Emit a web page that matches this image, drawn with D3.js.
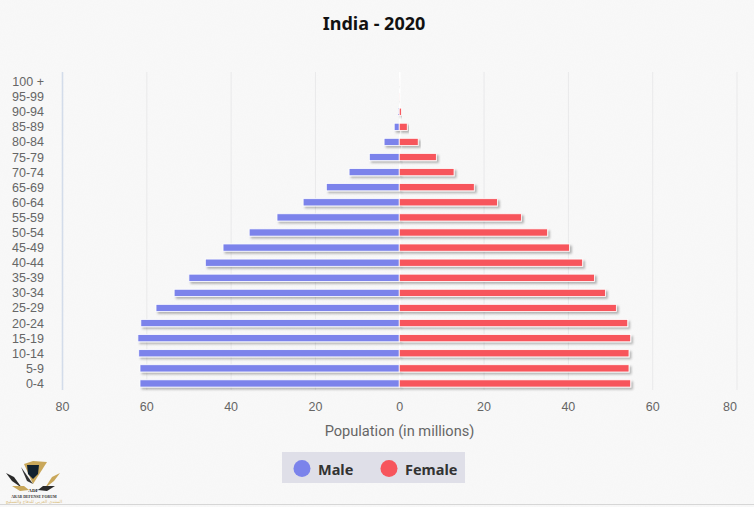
<!DOCTYPE html>
<html>
<head>
<meta charset="utf-8">
<script src="https://cdn.jsdelivr.net/npm/d3@7"></script>
<style>
  html, body { margin: 0; padding: 0; background: #f8f8f8; }
  svg { display: block; font-family: "Noto Sans", "Open Sans", sans-serif; }
  .title { font-size: 18px; font-weight: 700; fill: #111; }
  .tick-label { font-size: 12.5px; fill: #666; }
  .axis-title { font-family: Roboto, sans-serif; font-size: 14.6px; fill: #666; }
  .legend-label { font-size: 14.5px; font-weight: 700; fill: #333; }
</style>
</head>
<body>
<svg id="chart" width="754" height="507"></svg>
<script>
const ageGroups = ["100 +", "95-99", "90-94", "85-89", "80-84", "75-79", "70-74", "65-69", "60-64", "55-59", "50-54",
    "45-49", "40-44", "35-39", "30-34", "25-29", "20-24", "15-19", "10-14", "5-9", "0-4"];
const maleValues = [0.01, 0.03, 0.2, 1.2, 3.6, 7.1, 11.9, 17.3, 22.8, 29, 35.6,
    41.8, 46, 49.9, 53.4, 57.7, 61.3, 62, 61.8, 61.5, 61.5];
const femaleValues = [0.01, 0.06, 0.5, 1.9, 4.5, 8.8, 13, 17.8, 23.3, 29, 35.2,
    40.4, 43.5, 46.3, 48.9, 51.5, 54.2, 54.9, 54.5, 54.5, 54.9];
const xTicks = [-80, -60, -40, -20, 0, 20, 40, 60, 80];
const legendNames = ["Male", "Female"];

const maleColor = "#7b83eb";
const femaleColor = "#f7555c";

const svg = d3.select("#chart");
const defs = svg.append("defs");

// paper texture behind everything
const paper = defs.append("filter").attr("id", "paper")
    .attr("x", 0).attr("y", 0).attr("width", "100%").attr("height", "100%");
paper.append("feTurbulence").attr("type", "fractalNoise").attr("baseFrequency", 0.9).attr("numOctaves", 2).attr("seed", 4);
paper.append("feColorMatrix").attr("values", "0 0 0 0 0.7  0 0 0 0 0.7  0 0 0 0 0.7  0 0 0 0.1 0");

const shadow = defs.append("filter").attr("id", "barShadow")
    .attr("x", "-10%").attr("y", "-60%").attr("width", "120%").attr("height", "240%");
shadow.append("feDropShadow").attr("dx", 2).attr("dy", 2).attr("stdDeviation", 1)
    .attr("flood-color", "#000").attr("flood-opacity", 0.28);

svg.append("rect").attr("width", 754).attr("height", 507).attr("fill", "#f9f9f9");
svg.append("rect").attr("width", 754).attr("height", 507).attr("filter", "url(#paper)");

const xScale = d3.scaleLinear().domain([-80, 80]).range([62, 736.5]);
const yScale = d3.scaleBand().domain(ageGroups).range([74, 391]).paddingInner(0.52).paddingOuter(0.26);

svg.append("text").attr("class", "title")
    .attr("x", 374).attr("y", 30).attr("text-anchor", "middle")
    .text("India - 2020");

// x grid lines and labels
const xAxis = svg.append("g")
    .attr("transform", "translate(0, 72)")
    .call(d3.axisBottom(xScale).tickValues(xTicks).tickSize(318).tickPadding(12).tickFormat(d => Math.abs(d)));
xAxis.select(".domain").remove();
xAxis.selectAll(".tick line")
    .attr("stroke", d => d === -80 ? "#d3dcea" : d === 0 ? "#ffffff" : "#e9e9ea")
    .attr("stroke-width", d => d === -80 || d === 0 ? 1.6 : 1);
xAxis.selectAll(".tick text")
    .attr("class", "tick-label")
    .attr("fill", null)
    .attr("dx", d => d === 80 ? -7 : 0);

// age labels
const yAxis = svg.append("g")
    .attr("transform", "translate(44, 0.5)")
    .call(d3.axisLeft(yScale).tickSize(0).tickPadding(0));
yAxis.select(".domain").remove();
yAxis.selectAll(".tick text").attr("class", "tick-label").attr("fill", null);

const bars = svg.append("g");
bars.selectAll(".male")
    .data(maleValues)
    .join("rect")
    .attr("class", "male")
    .attr("x", d => xScale(-d))
    .attr("y", (d, i) => yScale(ageGroups[i]))
    .attr("width", d => xScale(0) - xScale(-d))
    .attr("height", yScale.bandwidth())
    .attr("fill", maleColor)
    .attr("stroke", "#fff")
    .attr("stroke-width", 0.8)
    .attr("filter", "url(#barShadow)");
bars.selectAll(".female")
    .data(femaleValues)
    .join("rect")
    .attr("class", "female")
    .attr("x", xScale(0))
    .attr("y", (d, i) => yScale(ageGroups[i]))
    .attr("width", d => xScale(d) - xScale(0))
    .attr("height", yScale.bandwidth())
    .attr("fill", femaleColor)
    .attr("stroke", "#fff")
    .attr("stroke-width", 0.8)
    .attr("filter", "url(#barShadow)");

svg.append("text").attr("class", "axis-title")
    .attr("x", 399.5).attr("y", 436).attr("text-anchor", "middle")
    .text("Population (in millions)");

// legend
const legend = svg.append("g").attr("transform", "translate(282, 452)");
legend.append("rect").attr("width", 183).attr("height", 31).attr("fill", "#dfdfe8");
const legendItems = legend.selectAll(".item")
    .data(legendNames)
    .join("g")
    .attr("class", "item")
    .attr("transform", (d, i) => `translate(${i === 0 ? 20 : 107}, 16.5)`);
legendItems.append("circle").attr("r", 8.5)
    .attr("fill", (d, i) => i === 0 ? maleColor : femaleColor);
legendItems.append("text").attr("class", "legend-label")
    .attr("x", 16).attr("y", 6.5).text(d => d);

// watermark logo, bottom left
const logo = svg.append("g");
logo.append("path").attr("d", "M24 464 L33 461 L47 462 L33 484 Z").attr("fill", "#c9a75a");
logo.append("path").attr("d", "M27 465 L39 465 L38 474 L33 479 L28 474 Z").attr("fill", "#12212e");
logo.append("path").attr("d", "M21 467 L33 484 L27 481 Z").attr("fill", "#333");
logo.append("path").attr("d", "M6 473 L14 477 L22 488 L12 481 Z").attr("fill", "#2a2a2a");
logo.append("path").attr("d", "M60 473 L52 477 L45 488 L54 481 Z").attr("fill", "#c9a75a");
logo.append("path").attr("d", "M12 486 L24 486 L29 490 L20 491 Z").attr("fill", "#c9a75a");
logo.append("path").attr("d", "M55 486 L43 486 L38 490 L47 491 Z").attr("fill", "#2a2a2a");
logo.append("text").attr("x", 33.5).attr("y", 492).attr("text-anchor", "middle")
    .attr("font-size", 5).attr("font-weight", 700).attr("font-family", "Liberation Serif").attr("fill", "#222")
    .text("ADF");
logo.append("text").attr("x", 34).attr("y", 497.5).attr("text-anchor", "middle")
    .attr("font-size", 3.9).attr("font-weight", 700).attr("font-family", "Liberation Serif").attr("fill", "#333")
    .text("ARAB DEFENSE FORUM");
logo.append("text").attr("x", 34).attr("y", 503).attr("text-anchor", "middle")
    .attr("font-size", 4.4).attr("font-family", "DejaVu Sans").attr("fill", "#d9bd7f")
    .text("المنتدى العربي للدفاع والتسليح");
svg.append("line").attr("x1", 0).attr("x2", 754).attr("y1", 504.5).attr("y2", 504.5).attr("stroke", "#d6d6d6");
</script>
</body>
</html>
